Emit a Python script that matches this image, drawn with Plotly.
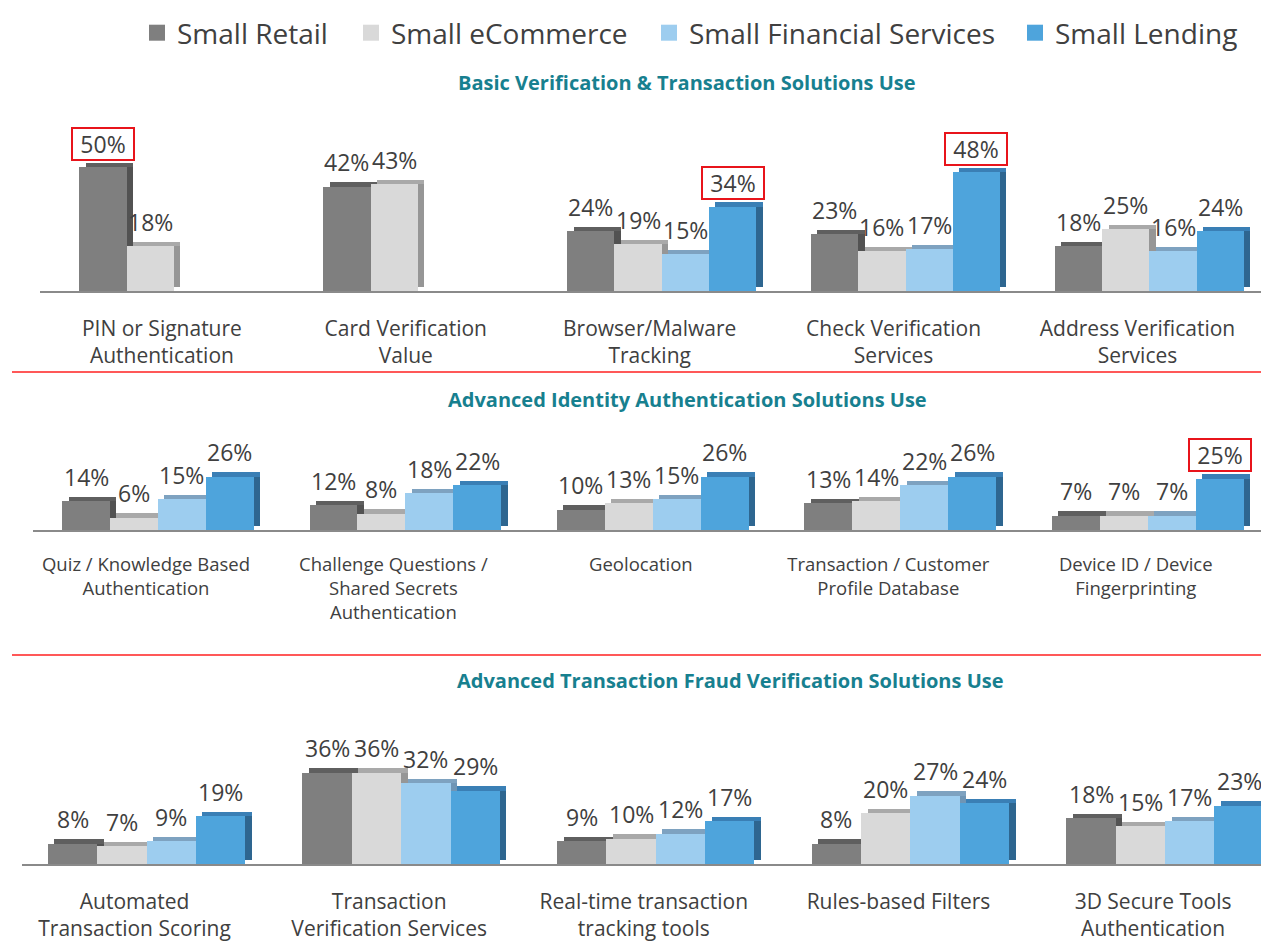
import plotly.graph_objects as go

PW, PH = 1269, 943      # page size
OFF = 8                 # default body margin of the html page
W, H = PW - OFF, PH - OFF

series = ["Small Retail", "Small eCommerce", "Small Financial Services", "Small Lending"]

basic_cats = ["PIN or Signature<br>Authentication", "Card Verification<br>Value",
              "Browser/Malware<br>Tracking", "Check Verification<br>Services",
              "Address Verification<br>Services"]
basic_retail = [50, 42, 24, 23, 18]
basic_ecom = [18, 43, 19, 16, 25]
basic_fin = [None, None, 15, 17, 16]
basic_lend = [None, None, 34, 48, 24]

ident_cats = ["Quiz / Knowledge Based<br>Authentication",
              "Challenge Questions /<br>Shared Secrets<br>Authentication",
              "Geolocation", "Transaction / Customer<br>Profile Database",
              "Device ID / Device<br>Fingerprinting"]
ident_retail = [14, 12, 10, 13, 7]
ident_ecom = [6, 8, 13, 14, 7]
ident_fin = [15, 18, 15, 22, 7]
ident_lend = [26, 22, 26, 26, 25]

fraud_cats = ["Automated<br>Transaction Scoring", "Transaction<br>Verification Services",
              "Real-time transaction<br>tracking tools", "Rules-based Filters",
              "3D Secure Tools<br>Authentication"]
fraud_retail = [8, 36, 9, 8, 18]
fraud_ecom = [7, 36, 10, 20, 15]
fraud_fin = [9, 32, 12, 27, 17]
fraud_lend = [19, 29, 17, 24, 23]

titles = ["Basic Verification & Transaction Solutions Use",
          "Advanced Identity Authentication Solutions Use",
          "Advanced Transaction Fraud Verification Solutions Use"]

# highlighted labels: (panel, series index, category index)
highlight = {(0, 0, 0), (0, 3, 2), (0, 3, 3), (1, 3, 4)}

panels = [
    dict(cats=basic_cats, data=[basic_retail, basic_ecom, basic_fin, basic_lend]),
    dict(cats=ident_cats, data=[ident_retail, ident_ecom, ident_fin, ident_lend]),
    dict(cats=fraud_cats, data=[fraud_retail, fraud_ecom, fraud_fin, fraud_lend]),
]

front = ["#7f7f7f", "#d9d9d9", "#9dcdef", "#4ea4dc"]
topc = ["#5f5f5f", "#a9a9a9", "#7ea2c0", "#3a7fb5"]
side = ["#525252", "#969696", "#6f95b5", "#2e6690"]


def px(xp):
    return (xp - OFF) / W


def py(yp):
    return 1 - (yp - OFF) / H


# layout geometry (page pixels)
geo = [
    dict(left=40, base=291, top=142, xr=[-0.549, 4.49], yr=[0, 60], dy=1.7, tick=21,
         standoff=18, tshift=-12, title_y=83, title_x=687),
    dict(left=33, base=530, top=448, xr=[-0.505, 4.49], yr=[0, 40], dy=2.1, tick=18.5,
         standoff=17, tshift=-12, title_y=399, title_x=687),
    dict(left=22, base=864, top=750, xr=[-0.489, 4.408], yr=[0, 45], dy=1.7, tick=21,
         standoff=18, tshift=-12, title_y=680, title_x=730),
]

legend_left = [137, 351, 649, 1015]

G = 0.775
w = G / 4
dx = 0.026

fig = go.Figure()
annotations = []
for p, (pan, g) in enumerate(zip(panels, geo)):
    xa = "x" if p == 0 else f"x{p+1}"
    ya = "y" if p == 0 else f"y{p+1}"
    xs = list(range(len(pan["cats"])))
    for s, vals in enumerate(pan["data"]):
        off = -G / 2 + s * w
        # side face
        fig.add_trace(go.Bar(x=xs, y=vals, base=g["dy"], offset=off + w, width=dx,
                             marker=dict(color=side[s], line=dict(width=0)),
                             showlegend=False, hoverinfo="skip", xaxis=xa, yaxis=ya))
        # top face
        fig.add_trace(go.Bar(x=xs, y=[g["dy"] if v is not None else None for v in vals],
                             base=[v if v is not None else 0 for v in vals],
                             offset=off + dx, width=w,
                             marker=dict(color=topc[s], line=dict(width=0)),
                             showlegend=False, hoverinfo="skip", xaxis=xa, yaxis=ya))
        # front face
        fig.add_trace(go.Bar(x=xs, y=vals, offset=off, width=w, name=series[s],
                             marker=dict(color=front[s], line=dict(width=0)),
                             showlegend=False, hoverinfo="skip", xaxis=xa, yaxis=ya))
        for i, v in enumerate(vals):
            if v is None:
                continue
            hl = (p, s, i) in highlight
            ann = dict(x=i + off + w / 2, y=v + g["dy"], xref=xa, yref=ya,
                       text=f"{v}%", showarrow=False, yanchor="bottom", yshift=2,
                       font=dict(family="Open Sans", size=23, color="#404040"))
            if hl:
                ann.update(bordercolor="#e8141b", borderwidth=2, borderpad=0,
                           width=60, height=30)
            annotations.append(ann)
    annotations.append(dict(x=px(g["title_x"]), y=py(g["title_y"]), xref="paper", yref="paper",
                            xanchor="center", yanchor="middle",
                            text=f"<b>{titles[p]}</b>", showarrow=False,
                            font=dict(family="Open Sans", size=20, color="#17808f")))

# legend entries (square swatches), one legend per entry for exact spacing
legend_names = ["legend", "legend2", "legend3", "legend4"]
for s in range(4):
    fig.add_trace(go.Scatter(x=[None], y=[None], mode="markers", name=series[s],
                             marker=dict(symbol="square", size=16, color=front[s]),
                             showlegend=True, hoverinfo="skip", legend=legend_names[s]))

layout = dict(
    width=W, height=H, margin=dict(l=0, r=0, t=0, b=0, autoexpand=False),
    paper_bgcolor="white", plot_bgcolor="white",
    barmode="overlay", bargap=0,
    showlegend=True,
    annotations=annotations,
    shapes=[
        dict(type="line", xref="paper", yref="paper", x0=px(12), x1=px(1268),
             y0=py(372), y1=py(372), line=dict(color="#ff2020", width=1.3)),
        dict(type="line", xref="paper", yref="paper", x0=px(12), x1=px(1268),
             y0=py(655), y1=py(655), line=dict(color="#ff2020", width=1.3)),
    ],
)
for s, ln in enumerate(legend_names):
    layout[ln] = dict(orientation="h", x=px(legend_left[s]), y=py(8), xanchor="left",
                      yanchor="top",
                      font=dict(family="Open Sans", size=28, color="#404040"),
                      itemsizing="trace", bgcolor="rgba(0,0,0,0)")

for p, (pan, g) in enumerate(zip(panels, geo)):
    xk = "xaxis" if p == 0 else f"xaxis{p+1}"
    yk = "yaxis" if p == 0 else f"yaxis{p+1}"
    layout[xk] = dict(domain=[px(g["left"]), 1], range=g["xr"], anchor="y" if p == 0 else f"y{p+1}",
                      type="linear", automargin=False,
                      tickvals=list(range(len(pan["cats"]))), ticktext=pan["cats"],
                      showline=True, linecolor="#8a8a8a", linewidth=1.5,
                      showgrid=False, zeroline=False, ticks="",
                      ticklabelstandoff=g["standoff"], ticklabelshift=g["tshift"],
                      tickfont=dict(family="Open Sans", size=g["tick"], color="#404040"),
                      fixedrange=True)
    layout[yk] = dict(domain=[py(g["base"]), py(g["top"])], range=g["yr"],
                      anchor="x" if p == 0 else f"x{p+1}", automargin=False,
                      visible=False, showgrid=False, zeroline=False, fixedrange=True)

fig.update_layout(**layout)
fig.write_html("out.html")
